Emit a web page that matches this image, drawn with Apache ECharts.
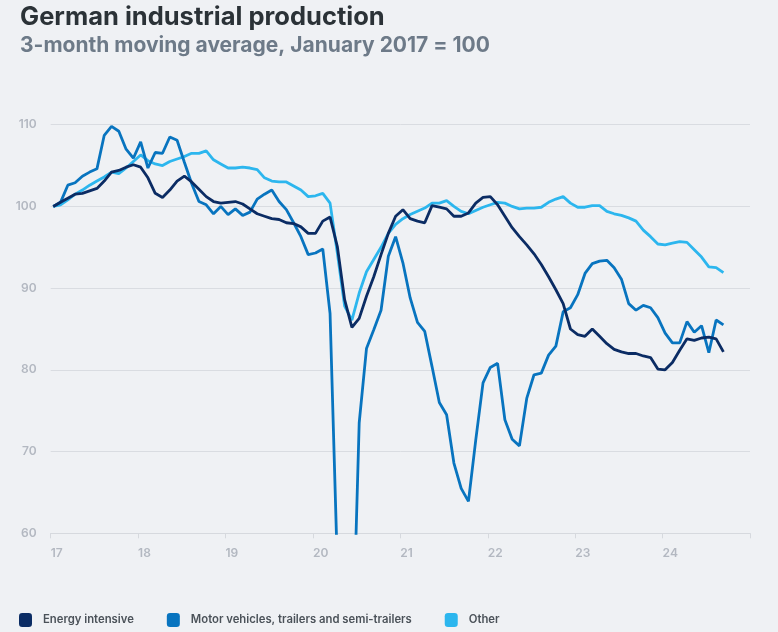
<!DOCTYPE html>
<html>
<head>
<meta charset="utf-8">
<script src="https://cdn.jsdelivr.net/npm/echarts@6/dist/echarts.min.js"></script>
<style>
  html, body { margin: 0; padding: 0; background: #eff1f4; }
  #chart { width: 778px; height: 632px; }
</style>
</head>
<body>
<div id="chart"></div>
<script>
// Months since January 2017 (0 = Jan 2017 ... 92 = Sep 2024)
const yearLabels = ['17', '18', '19', '20', '21', '22', '23', '24', ''];
const seriesNames = ['Energy intensive', 'Motor vehicles, trailers and semi-trailers', 'Other'];

const energyIntensive = [
  100.0, 100.5, 101.0, 101.5, 101.6, 101.9, 102.2, 103.1, 104.2, 104.4, 104.8, 105.1,
  104.8, 103.5, 101.6, 101.1, 102.0, 103.1, 103.7, 103.0, 102.1, 101.2, 100.6, 100.4,
  100.5, 100.6, 100.3, 99.7, 99.1, 98.8, 98.5, 98.4, 98.0, 97.9, 97.5, 96.7,
  96.7, 98.2, 98.7, 95.1, 88.6, 85.2, 86.3, 89.0, 91.4, 94.1, 96.7, 98.8,
  99.6, 98.5, 98.2, 98.0, 100.1, 99.9, 99.7, 98.8, 98.8, 99.2, 100.4, 101.1,
  101.2, 100.2, 98.8, 97.4, 96.3, 95.3, 94.2, 92.9, 91.4, 89.8, 88.1, 85.0,
  84.3, 84.1, 85.0, 84.1, 83.2, 82.5, 82.2, 82.0, 82.0, 81.7, 81.5, 80.1,
  80.0, 80.9, 82.4, 83.8, 83.6, 83.9, 84.0, 83.8, 82.2
];

const motorVehicles = [
  100.0, 100.5, 102.6, 102.9, 103.7, 104.2, 104.6, 108.7, 109.8, 109.2, 107.0, 105.9,
  107.9, 104.7, 106.6, 106.5, 108.5, 108.1, 105.4, 102.8, 100.6, 100.2, 99.1, 100.0,
  99.0, 99.7, 98.9, 99.3, 100.9, 101.5, 102.0, 100.6, 99.6, 98.0, 96.3, 94.1,
  94.3, 94.8, 86.9, 56.0, 38.0, 42.0, 73.5, 82.6, 84.9, 87.3, 93.9, 96.3,
  93.1, 88.8, 85.8, 84.7, 80.4, 76.0, 74.5, 68.6, 65.5, 63.9, 71.4, 78.4,
  80.3, 80.8, 73.9, 71.5, 70.7, 76.5, 79.4, 79.6, 81.8, 82.9, 87.1, 87.6,
  89.2, 91.8, 93.0, 93.3, 93.4, 92.5, 91.1, 88.1, 87.3, 87.9, 87.6, 86.4,
  84.5, 83.3, 83.3, 85.9, 84.6, 85.4, 82.1, 86.1, 85.5
];

const other = [
  100.0, 100.2, 100.8, 101.5, 102.0, 102.6, 103.1, 103.6, 104.2, 104.0, 104.7, 105.5,
  106.3, 105.6, 105.2, 105.0, 105.5, 105.8, 106.1, 106.5, 106.5, 106.8, 105.7, 105.2,
  104.7, 104.7, 104.8, 104.7, 104.5, 103.5, 103.1, 103.0, 103.0, 102.5, 102.0, 101.2,
  101.3, 101.6, 100.4, 94.3, 87.8, 86.1, 89.4, 92.0, 93.5, 95.0, 96.7, 97.8,
  98.5, 99.0, 99.4, 99.8, 100.4, 100.4, 100.7, 100.0, 99.4, 99.1, 99.5, 99.9,
  100.2, 100.5, 100.4, 100.0, 99.7, 99.8, 99.8, 99.9, 100.5, 100.9, 101.2, 100.4,
  99.9, 99.9, 100.1, 100.1, 99.4, 99.1, 98.9, 98.6, 98.2, 97.1, 96.3, 95.4,
  95.3, 95.5, 95.7, 95.6, 94.7, 93.8, 92.6, 92.5, 91.9
];

const colors = ['#0b2c64', '#0874bf', '#2cb6ee'];
const monthOffset = 0.35; // data sit slightly after the year tick

function toPoints(arr) {
  return arr.map((v, i) => [i + monthOffset, v]);
}

const chart = echarts.init(document.getElementById('chart'), null, { renderer: 'canvas' });
const fontFamily = 'Inter, "Noto Sans", sans-serif';

const option = {
  backgroundColor: '#eff1f4',
  animation: false,
  title: [
    {
      text: 'German industrial production',
      left: 15, top: -1,
      textStyle: { fontFamily: fontFamily, fontSize: 25.5, fontWeight: 700, color: '#2b3237' }
    },
    {
      text: '3-month moving average, January 2017 = 100',
      left: 15, top: 30,
      textStyle: { fontFamily: fontFamily, fontSize: 21, fontWeight: 700, color: '#6d7a88' }
    }
  ],
  color: colors,
  grid: { left: 50.7, right: 28, top: 124.7, bottom: 98.7, containLabel: false },
  legend: {
    left: 14, top: 608,
    itemWidth: 13, itemHeight: 14, itemGap: 33,
    icon: 'roundRect',
    textStyle: { fontFamily: fontFamily, fontSize: 11.3, fontWeight: 600, color: '#4b5259', padding: [0, 0, 0, 6] },
    data: seriesNames
  },
  xAxis: {
    type: 'value',
    min: 0, max: 96, interval: 12,
    axisLine: { show: true, lineStyle: { color: '#d6d9de', width: 1 } },
    axisTick: { show: true, length: 5, lineStyle: { color: '#d6d9de' } },
    splitLine: { show: false },
    axisLabel: {
      margin: 14, align: 'left',
      fontFamily: fontFamily, fontSize: 12, fontWeight: 600, color: '#b3b8c1',
      formatter: v => yearLabels[Math.round(v / 12)] || ''
    }
  },
  yAxis: {
    type: 'value',
    min: 60, max: 110, interval: 10,
    axisLine: { show: false },
    axisTick: { show: false },
    splitLine: { lineStyle: { color: '#d9dce1', width: 1 } },
    axisLabel: { margin: 14, fontFamily: fontFamily, fontSize: 12, fontWeight: 600, color: '#b3b8c1' }
  },
  series: [
    { name: seriesNames[0], type: 'line', data: toPoints(energyIntensive), showSymbol: false, symbol: 'none', clip: true,
      lineStyle: { width: 2.8, color: colors[0] }, z: 3 },
    { name: seriesNames[1], type: 'line', data: toPoints(motorVehicles), showSymbol: false, symbol: 'none', clip: true,
      lineStyle: { width: 2.8, color: colors[1] }, z: 2 },
    { name: seriesNames[2], type: 'line', data: toPoints(other), showSymbol: false, symbol: 'none', clip: true,
      lineStyle: { width: 2.8, color: colors[2] }, z: 1 }
  ]
};
chart.setOption(option);
</script>
</body>
</html>
